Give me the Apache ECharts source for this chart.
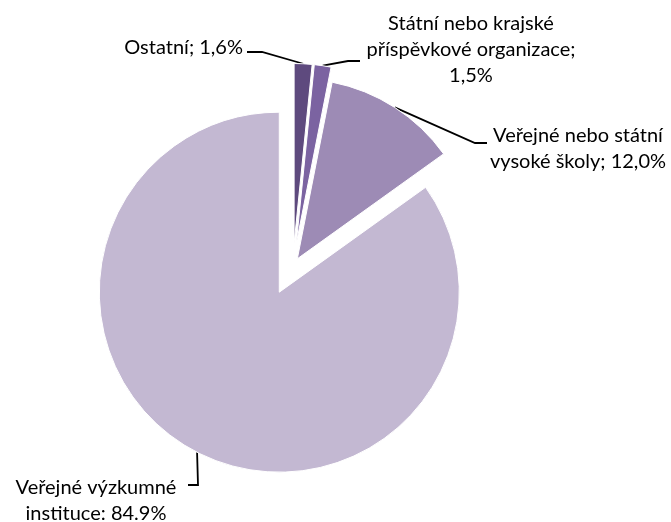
<!DOCTYPE html>
<html>
<head>
<meta charset="utf-8">
<script src="https://cdn.jsdelivr.net/npm/echarts@6/dist/echarts.min.js"></script>
<style>
html, body { margin: 0; padding: 0; background: #fff; }
#chart { width: 671px; height: 522px; }
</style>
</head>
<body>
<div id="chart"></div>
<script>
const categories = ['Ostatní', 'Státní nebo krajské příspěvkové organizace', 'Veřejné nebo státní vysoké školy', 'Veřejné výzkumné instituce'];
const values = [1.6, 1.5, 12.0, 84.9];
const labelTexts = [
  'Ostatní; 1,6%',
  'Státní nebo krajské\npříspěvkové organizace;\n1,5%',
  'Veřejné nebo státní\nvysoké školy; 12,0%',
  'Veřejné výzkumné\ninstituce: 84.9%'
];
const colors = ['#5e4a7e', '#7b63a1', '#9d8bb5', '#c3b8d2'];
const explode = [22, 22, 8, 30]; // px each slice is pulled out

const pieCenter = [293, 265.5];
const radius = 180;

// label anchor + bend of leader line (first point comes from the slice edge)
const labelPlace = [
  { x: 243, y: 48, align: 'right', line: [[262, 52], [247, 52]] },
  { x: 471, y: 50, align: 'center', line: [[348, 61], [360, 61]] },
  { x: 578, y: 149, align: 'center', line: [[475, 143], [487, 143]] },
  { x: 96, y: 501, align: 'center', line: [[198, 485], [188, 485]] }
];

const total = values.reduce((a, b) => a + b, 0);
let acc = 0;
const mids = values.map(v => {
  const m = (acc + v / 2) / total * 2 * Math.PI;
  acc += v;
  return m;
});

const myChart = echarts.init(document.getElementById('chart'));

// one series per slice so every slice can have its own explosion
const series = values.map((_, k) => ({
  type: 'pie',
  silent: true,
  startAngle: 90,
  clockwise: true,
  radius: radius,
  center: [
    pieCenter[0] + explode[k] * Math.sin(mids[k]),
    pieCenter[1] - explode[k] * Math.cos(mids[k])
  ],
  avoidLabelOverlap: false,
  data: values.map((v, i) => ({
    name: categories[i],
    value: v,
    itemStyle: i === k
      ? { color: colors[i], borderColor: '#fff', borderWidth: 1 }
      : { color: 'rgba(0,0,0,0)', borderWidth: 0 },
    label: { show: i === k },
    labelLine: { show: i === k }
  })),
  label: {
    position: 'outside',
    formatter: p => labelTexts[p.dataIndex],
    color: '#000',
    fontFamily: 'Lato',
    fontSize: 20,
    lineHeight: 26
  },
  labelLine: {
    lineStyle: { color: '#000', width: 1.8 }
  },
  labelLayout: params => {
    const pl = labelPlace[params.dataIndex];
    const start = params.labelLinePoints ? params.labelLinePoints[0] : pl.line[0];
    return {
      x: pl.x,
      y: pl.y,
      align: pl.align,
      verticalAlign: 'middle',
      labelLinePoints: [start].concat(pl.line)
    };
  }
}));

myChart.setOption({
  animation: false,
  series: series
});
</script>
</body>
</html>
